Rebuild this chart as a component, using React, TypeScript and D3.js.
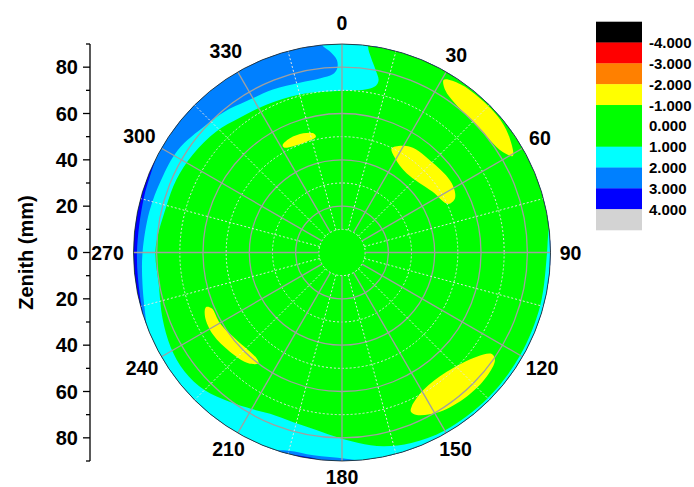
import * as d3 from "d3";

const width = 694;
const height = 487;

// contour levels and the colour of each band (lowest first)
const levels = [-4, -3, -2, -1, 0, 1, 2, 3, 4];
const levelColors = [
  "#000000",
  "#ff0000",
  "#ff8000",
  "#ffff00",
  "#00ff00",
  "#00ff00",
  "#00ffff",
  "#0080ff",
  "#0000ff",
  "#d3d3d3",
];

const angleTicks = [0, 30, 60, 90, 120, 150, 180, 210, 240, 270, 300, 330];
const zenithTicks = [-80, -60, -40, -20, 0, 20, 40, 60, 80];
const zenithMinor = [-90, -70, -50, -30, -10, 10, 30, 50, 70, 90];
const gridRadii = [10, 20, 30, 40, 50, 60, 70, 80];

// contour lines as [azimuth deg, zenith mm]
// points beyond 90 mm are outside the plot (band absent there)
const edge1: [number, number][] = [
  [0, 69.8], [5, 70.3], [9, 71.5], [11.5, 73.5], [12, 76], [10.5, 80], [8.5, 85],
  [7.2, 90], [8, 95], [15, 99], [30, 100], [50, 100], [68, 98], [77, 94],
  [82, 90.5], [86, 89.1], [90, 88.5], [105, 88.6], [120, 88.8], [135, 88.9],
  [150, 88.7], [160, 87.5], [168, 85.5], [175, 82.5], [181, 80], [188, 77.5],
  [196, 76.2], [204, 76.2], [210, 78], [217, 80.7], [225, 84], [233, 85.2],
  [241, 84.5], [250, 82.5], [260, 80.3], [271, 80.5], [284.6, 78.4],
  [293.7, 78.1], [303.3, 77], [313.9, 75.3], [322.8, 73], [332.9, 71.7],
  [345.1, 70.6],
];

const edge2: [number, number][] = [
  [0, 97], [20, 100], [40, 100], [60, 100], [80, 100], [100, 100], [120, 100],
  [140, 100], [158, 99], [167, 95], [173, 91], [179, 89], [188, 88.4],
  [195, 88.6], [199, 90.3], [204, 94], [212, 99], [228, 100], [238, 97],
  [245, 92], [251, 89.5], [261, 87.2], [270, 86.1], [282, 85], [292, 84.1],
  [302, 83.5], [313, 80.5], [320, 79.2], [328, 77.2], [337, 76.4], [346, 75.5],
  [353, 75.8], [357, 77], [358.5, 79.5], [358.5, 83], [356.5, 87], [354.5, 90],
  [354, 93],
];

const edge3: [number, number][] = [
  [0, 100], [20, 100], [40, 100], [60, 100], [80, 100], [100, 100], [120, 100],
  [140, 100], [160, 100], [174, 97], [182, 92], [187, 89.8], [192, 89.6],
  [197, 91], [204, 96], [215, 100], [232, 99], [243, 94], [250, 90.5],
  [258, 89.2], [270, 88.5], [285, 88.7], [294, 89.5], [299, 90.5], [305, 95],
  [315, 100], [335, 100],
];

// islands below -1
const islands: [number, number][][] = [
  [
    [30.5, 86.5], [35, 88.8], [42, 89.3], [50, 89.2], [56, 87.5], [60.5, 84.7],
    [58, 81.8], [52.8, 80.2], [44, 79.8], [37, 80.8], [32.5, 83],
  ],
  [
    [25.5, 49.8], [32.7, 54.3], [45.7, 55.1], [57.8, 56], [64.4, 54.1],
    [65.5, 50.4], [56, 47], [39.2, 44.1], [29.4, 46.7],
  ],
  [
    [331.1, 53], [335.5, 54.2], [342, 54.1], [346.5, 52.9], [347.3, 51.2],
    [342.3, 50.2], [335.4, 50.5], [331.1, 51.8],
  ],
  [
    [248.1, 63.3], [246.8, 61.2], [239.9, 60.9], [230.3, 59.1], [218.9, 58.7],
    [217, 59.9], [220.2, 62.6], [228.5, 64.6], [237.3, 66], [244.9, 65.3],
  ],
  [
    [155.7, 73], [149.4, 69], [138.7, 68.5], [127.7, 73.5], [124.1, 78.1],
    [125.1, 80.7], [130.6, 82.3], [139.2, 82.3], [148.4, 80.7], [155.3, 77.2],
    [156.6, 74.9],
  ],
];

const font = "Arial, 'Liberation Sans', sans-serif";

const App = () => {
  const cx = 342;
  const cy = 252.5;
  const R = 208.5;

  const r = d3.scaleLinear().domain([0, 90]).range([0, R]);
  const y = d3.scaleLinear().domain([90, -90]).range([cy - R, cy + R]);
  const color = d3.scaleThreshold<number, string>().domain(levels).range(levelColors);
  const rad = (a: number) => (a * Math.PI) / 180;

  const outline = d3
    .lineRadial<[number, number]>()
    .angle((d) => rad(d[0]))
    .radius((d) => r(d[1]))
    .curve(d3.curveCatmullRomClosed.alpha(0.5));

  const disc = d3.arc()({
    innerRadius: 0,
    outerRadius: R,
    startAngle: 0,
    endAngle: 2 * Math.PI,
  } as any) as string;

  const bands = [
    { edge: edge1, value: 1.5 },
    { edge: edge2, value: 2.5 },
    { edge: edge3, value: 3.5 },
  ];

  const spokes = d3.range(0, 360, 15);
  const legendY = d3.scaleLinear().domain([0, levelColors.length]).range([21.7, 230]);

  return (
    <svg
      width={width}
      height={height}
      style={{ position: "absolute", left: 0, top: 0, background: "#fff" }}
      fontFamily={font}
      fontWeight="bold"
    >
      <defs>
        <clipPath id="disc">
          <circle r={R} />
        </clipPath>
      </defs>

      <g transform={`translate(${cx},${cy})`}>
        <g clipPath="url(#disc)">
          <path d={disc} fill={color(0)} />
          {bands.map((b) => (
            <path
              key={b.value}
              d={disc + outline(b.edge)}
              fill={color(b.value)}
              fillRule="evenodd"
            />
          ))}
          {islands.map((pts, i) => (
            <path key={i} d={outline(pts) as string} fill={color(-1.5)} />
          ))}
        </g>

        {/* grid */}
        {gridRadii.map((g) => (
          <circle
            key={g}
            r={r(g)}
            fill="none"
            stroke={g % 20 === 0 ? "#a0a0a0" : "#e4e4e4"}
            strokeWidth={g % 20 === 0 ? 1.3 : 1}
            strokeDasharray={g % 20 === 0 ? undefined : "2,2"}
          />
        ))}
        {spokes.map((a) => (
          <line
            key={a}
            x1={r(10) * Math.sin(rad(a))}
            y1={-r(10) * Math.cos(rad(a))}
            x2={R * Math.sin(rad(a))}
            y2={-R * Math.cos(rad(a))}
            stroke={a % 30 === 0 ? "#a0a0a0" : "#e4e4e4"}
            strokeWidth={a % 30 === 0 ? 1.3 : 1}
            strokeDasharray={a % 30 === 0 ? undefined : "2,2"}
          />
        ))}
        <circle r={R} fill="none" stroke="#222" strokeWidth={0.8} />

        {angleTicks.map((a) => {
          const n = String(a).length;
          const s = Math.sin(rad(a));
          const c = Math.cos(rad(a));
          const rl =
            R + 17 + 1.5 * n +
            (n === 3 ? 4.5 * Math.abs(s) : 0) +
            (n === 1 ? 3 : 0) -
            (c < 0 ? 6 * Math.abs(c) : 0);
          return (
            <text
              key={a}
              x={rl * s}
              y={-rl * c}
              textAnchor="middle"
              dominantBaseline="central"
              fontSize={19.5}
            >
              {a}
            </text>
          );
        })}
      </g>

      {/* zenith axis */}
      <line x1={90} x2={90} y1={y(90)} y2={y(-90)} stroke="#000" strokeWidth={1.3} />
      {zenithMinor.map((v) => (
        <line key={v} x1={86} x2={90} y1={y(v)} y2={y(v)} stroke="#000" strokeWidth={1.3} />
      ))}
      {zenithTicks.map((v) => (
        <g key={v}>
          <line x1={83} x2={90} y1={y(v)} y2={y(v)} stroke="#000" strokeWidth={1.3} />
          <text x={78} y={y(v)} textAnchor="end" dominantBaseline="central" fontSize={20}>
            {Math.abs(v)}
          </text>
        </g>
      ))}
      <text
        transform={`translate(26,${cy}) rotate(-90)`}
        textAnchor="middle"
        dominantBaseline="central"
        fontSize={20}
      >
        Zenith (mm)
      </text>

      {/* legend */}
      {levelColors.map((c, i) => (
        <rect
          key={i}
          x={596}
          y={legendY(i)}
          width={46}
          height={legendY(i + 1) - legendY(i) + 0.3}
          fill={c}
        />
      ))}
      {levels.map((v, i) => (
        <text key={v} x={649} y={legendY(i + 1)} dominantBaseline="central" fontSize={15}>
          {v.toFixed(3)}
        </text>
      ))}
    </svg>
  );
};

export default App;
